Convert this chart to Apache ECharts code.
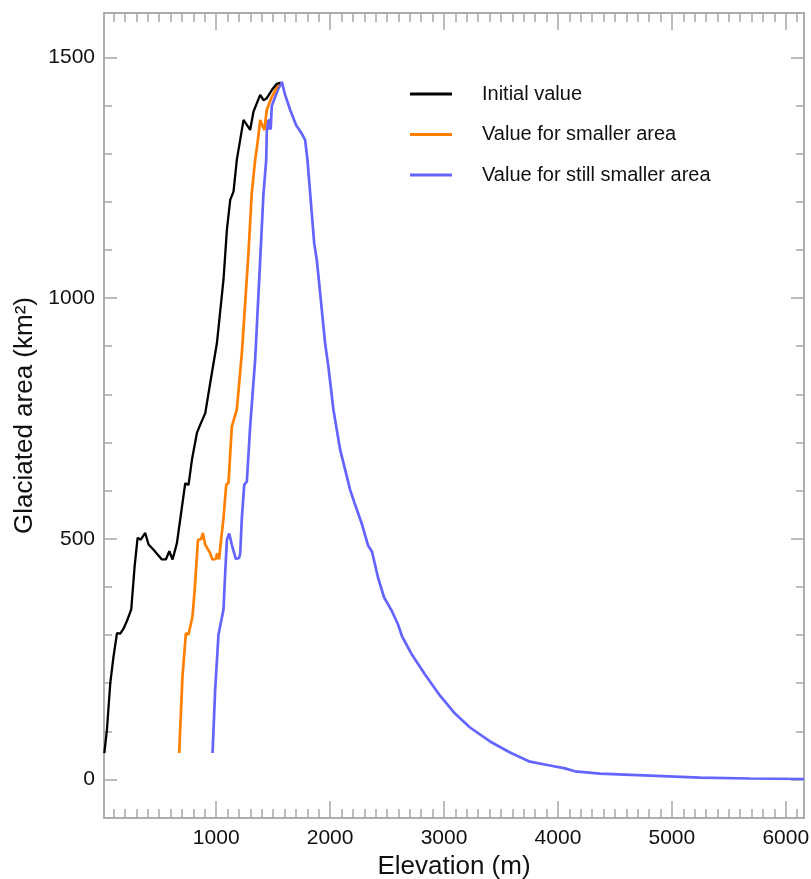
<!DOCTYPE html>
<html>
<head>
<meta charset="utf-8">
<script src="https://cdn.jsdelivr.net/npm/echarts@6/dist/echarts.min.js"></script>
<style>
  html, body { margin: 0; padding: 0; background: #fff; }
  #chart { width: 811px; height: 879px; }
</style>
</head>
<body>
<div id="chart"></div>
<script>
// series names
var seriesNames = ['Initial value', 'Value for smaller area', 'Value for still smaller area'];

// Initial value
var initElev = [18, 41, 70, 99, 129, 158, 190, 216, 254, 284, 310, 338, 377, 406, 450, 523, 558, 588, 617, 655, 684, 728, 757, 787, 831, 860, 904, 947, 1006, 1064, 1094, 1123, 1152, 1181, 1240, 1298, 1327, 1386, 1415, 1444, 1488, 1532, 1561];
var initArea = [55, 104, 200, 256, 304, 303, 315, 329, 353, 443, 502, 498, 512, 488, 477, 457, 457, 474, 457, 491, 540, 615, 612, 664, 720, 737, 761, 823, 906, 1038, 1142, 1204, 1221, 1287, 1370, 1349, 1387, 1422, 1411, 1415, 1432, 1445, 1447];

// Value for smaller area
var smallElev = [675, 704, 734, 757, 792, 811, 840, 868, 883, 903, 947, 967, 997, 1008, 1025, 1043, 1064, 1088, 1108, 1137, 1181, 1225, 1283, 1312, 1342, 1362, 1386, 1409, 1423, 1444, 1488, 1526, 1546, 1561];
var smallArea = [55, 214, 304, 301, 339, 394, 498, 499, 512, 488, 470, 457, 458, 470, 457, 498, 543, 612, 616, 733, 768, 885, 1093, 1217, 1287, 1321, 1370, 1356, 1349, 1391, 1418, 1435, 1445, 1447];

// Value for still smaller area
var smallerElev = [968, 991, 1020, 1035, 1064, 1079, 1094, 1114, 1137, 1172, 1201, 1211, 1225, 1246, 1269, 1298, 1342, 1386, 1415, 1439, 1444, 1455, 1462, 1470, 1478, 1488, 1518, 1546, 1576, 1605, 1649, 1702, 1752, 1781, 1801, 1825, 1860, 1883, 1898, 1956, 1985, 2029, 2088, 2146, 2175, 2219, 2281, 2333, 2368, 2421, 2474, 2544, 2596, 2632, 2719, 2833, 2965, 3096, 3228, 3404, 3579, 3754, 3930, 4061, 4149, 4368, 4807, 5246, 5684, 6160];
var smallerArea = [55, 187, 301, 304, 353, 429, 498, 511, 488, 458, 460, 470, 543, 612, 619, 733, 872, 1079, 1217, 1287, 1345, 1370, 1350, 1372, 1350, 1399, 1418, 1435, 1449, 1422, 1391, 1359, 1341, 1328, 1287, 1217, 1114, 1079, 1045, 906, 857, 768, 685, 630, 602, 571, 529, 486, 473, 419, 378, 349, 322, 297, 259, 218, 174, 137, 108, 79, 56, 37, 29, 23, 17, 12, 8, 4, 2, 1];

// tick values
var xMajor = [1000, 2000, 3000, 4000, 5000, 6000];
var xMinor = [100, 200, 300, 400, 500, 600, 700, 800, 900, 1100, 1200, 1300, 1400, 1500, 1600, 1700, 1800, 1900, 2100, 2200, 2300, 2400, 2500, 2600, 2700, 2800, 2900, 3100, 3200, 3300, 3400, 3500, 3600, 3700, 3800, 3900, 4100, 4200, 4300, 4400, 4500, 4600, 4700, 4800, 4900, 5100, 5200, 5300, 5400, 5500, 5600, 5700, 5800, 5900, 6100];
var yMajor = [0, 500, 1000, 1500];
var yMinor = [100, 200, 300, 400, 600, 700, 800, 900, 1100, 1200, 1300, 1400];

var xMin = 15, xMax = 6160;
var yMin = -80, yMax = 1592;

var colors = ['#000000', '#ff7f00', '#6464ff'];
var axisGrey = '#a8a8a8';
var font = 'Liberation Sans, Arial, sans-serif';

function zip(xs, ys) {
    return xs.map(function (x, i) { return [x, ys[i]]; });
}

function plain(v) { return String(v); }

function xAxisFor(position, ticks, len, labels) {
    return {
        type: 'value', position: position, min: xMin, max: xMax,
        axisLine: { show: true, onZero: false, lineStyle: { color: axisGrey, width: 1.5 } },
        axisTick: { show: true, inside: true, length: len, customValues: ticks, lineStyle: { color: axisGrey, width: 1.5 } },
        axisLabel: labels ? { show: true, customValues: ticks, formatter: plain, color: '#111', fontSize: 21, fontFamily: font, margin: 10 } : { show: false },
        splitLine: { show: false }
    };
}

function yAxisFor(position, ticks, len, labels) {
    return {
        type: 'value', position: position, min: yMin, max: yMax,
        axisLine: { show: true, onZero: false, lineStyle: { color: axisGrey, width: 1.5 } },
        axisTick: { show: true, inside: true, length: len, customValues: ticks, lineStyle: { color: axisGrey, width: 1.5 } },
        axisLabel: labels ? { show: true, customValues: ticks, formatter: plain, color: '#111', fontSize: 21, fontFamily: font, margin: 9 } : { show: false },
        splitLine: { show: false }
    };
}

var chart = echarts.init(document.getElementById('chart'));

var xBottom = xAxisFor('bottom', xMajor, 17, true);
xBottom.name = 'Elevation (m)';
xBottom.nameLocation = 'middle';
xBottom.nameGap = 32;
xBottom.nameTextStyle = { color: '#111', fontSize: 26, fontFamily: font };

var yLeft = yAxisFor('left', yMajor, 13, true);
yLeft.name = 'Glaciated area (km²)';
yLeft.nameLocation = 'middle';
yLeft.nameGap = 62;
yLeft.nameTextStyle = { color: '#111', fontSize: 26, fontFamily: font };

var option = {
    animation: false,
    backgroundColor: '#fff',
    grid: { left: 104, right: 7, top: 13, bottom: 61, containLabel: false, outerBoundsMode: 'none' },
    legend: {
        orient: 'vertical',
        left: 405,
        top: 79,
        itemWidth: 42,
        itemHeight: 3,
        itemGap: 20.5,
        icon: 'rect',
        data: seriesNames.map(function (n, i) {
            return { name: n, itemStyle: { color: colors[i] } };
        }),
        textStyle: { color: '#111', fontSize: 20, lineHeight: 20, fontFamily: font, padding: [0, 0, 0, 25] }
    },
    xAxis: [
        xBottom,
        xAxisFor('bottom', xMinor, 9, false),
        xAxisFor('top', xMajor, 17, false),
        xAxisFor('top', xMinor, 9, false)
    ],
    yAxis: [
        yLeft,
        yAxisFor('left', yMinor, 8, false),
        yAxisFor('right', yMajor, 13, false),
        yAxisFor('right', yMinor, 8, false)
    ],
    series: [
        { name: seriesNames[0], type: 'line', data: zip(initElev, initArea) },
        { name: seriesNames[1], type: 'line', data: zip(smallElev, smallArea) },
        { name: seriesNames[2], type: 'line', data: zip(smallerElev, smallerArea) }
    ].map(function (s, i) {
        s.xAxisIndex = 0;
        s.yAxisIndex = 0;
        s.symbol = 'none';
        s.showSymbol = false;
        s.color = colors[i];
        s.lineStyle = { color: colors[i], width: i === 0 ? 2.3 : 2.7 };
        s.z = 3 - i;
        return s;
    })
};

chart.setOption(option);
</script>
</body>
</html>
